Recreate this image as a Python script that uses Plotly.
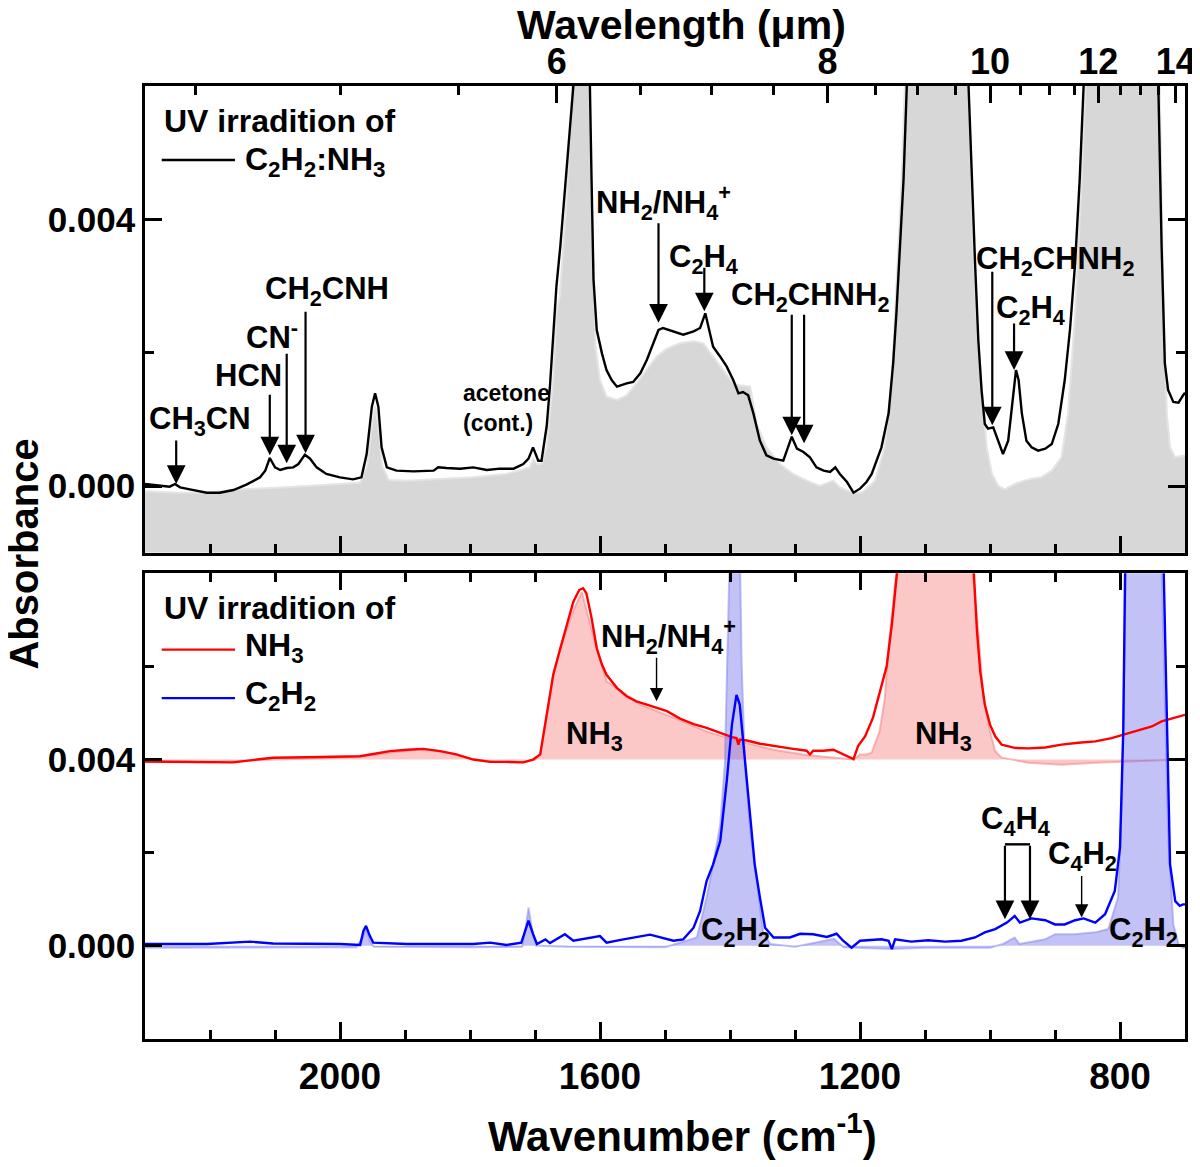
#!/usr/bin/env python3

"""
IR SPECTRA OF UV-IRRADIATED ICES

Two stacked panels on a shared (reversed) wavenumber axis:
  top    - C2H2:NH3 mixture
  bottom - pure NH3 (offset by +0.004) and pure C2H2
Filled areas are the spectra before irradiation, lines are after.

$ python3 plot.py
"""

from typing import List, Dict, Any

import plotly.graph_objects as go


# --- top panel: C2H2:NH3 mixture -------------------------------------------

MIX_AFTER_WN: List[float] = [
    2300, 2277, 2262, 2254, 2246, 2231, 2205, 2185, 2164, 2144,
    2123, 2115, 2108, 2100, 2092, 2082, 2072, 2064, 2054, 2046,
    2036, 2021, 2000, 1980, 1967, 1959, 1951, 1946, 1941, 1936,
    1928, 1913, 1887, 1856, 1849, 1836, 1815, 1795, 1774, 1754,
    1733, 1718, 1710, 1703, 1695, 1690, 1685, 1682, 1677, 1672,
    1667, 1661, 1651, 1641, 1628, 1617, 1613, 1610, 1605, 1597,
    1590, 1582, 1574, 1559, 1549, 1538, 1528, 1518, 1510, 1503,
    1487, 1472, 1456, 1446, 1438, 1431, 1426, 1415, 1405, 1395,
    1387, 1380, 1372, 1364, 1354, 1344, 1333, 1318, 1305, 1297,
    1287, 1277, 1267, 1256, 1246, 1238, 1231, 1220, 1210, 1200,
    1190, 1182, 1167, 1156, 1149, 1144, 1138, 1133, 1128, 1080,
    1033, 1028, 1023, 1018, 1013, 1008, 1003, 995, 987, 980,
    972, 964, 960, 956, 951, 944, 936, 926, 915, 905,
    895, 885, 877, 869, 862, 856, 800, 741, 736, 731,
    726, 718, 710, 703, 700,
]
MIX_AFTER_ABS: List[float] = [
    0.00003, 0.0, -0.00001, 0.00003, -0.00002, -0.00005, -0.0001, -0.0001, -0.00006, 0.00002,
    0.00013, 0.00023, 0.00042, 0.00028, 0.00024, 0.00027, 0.00028, 0.00033, 0.00047, 0.00041,
    0.00028, 0.00018, 0.00013, 0.0001, 0.00013, 0.00048, 0.00119, 0.00139, 0.00119, 0.00058,
    0.00028, 0.00023, 0.00022, 0.00023, 0.00028, 0.00027, 0.00026, 0.00028, 0.00024, 0.00026,
    0.00026, 0.00033, 0.00041, 0.00058, 0.00038, 0.00038, 0.00068, 0.0009, 0.0015, 0.0022,
    0.003, 0.0036, 0.00485, 0.006, 0.009, 0.0068, 0.0046, 0.0031, 0.00234, 0.00199,
    0.00174, 0.00159, 0.00149, 0.00154, 0.00156, 0.00169, 0.00189, 0.00214, 0.00234, 0.00237,
    0.00232, 0.00227, 0.00232, 0.00237, 0.00259, 0.00229, 0.00209, 0.00194, 0.00179, 0.00159,
    0.00139, 0.00141, 0.00136, 0.00109, 0.00068, 0.00046, 0.00041, 0.00038, 0.00074, 0.00056,
    0.00051, 0.00043, 0.00028, 0.00023, 0.00021, 0.00028, 0.00018, 0.00006, -0.0001, -0.00004,
    0.00006, 0.00018, 0.00058, 0.00109, 0.00184, 0.00259, 0.0036, 0.0046, 0.006, 0.02,
    0.006, 0.0046, 0.00335, 0.00219, 0.00144, 0.00093, 0.00086, 0.00088, 0.00068, 0.00048,
    0.00068, 0.00134, 0.00174, 0.00159, 0.00109, 0.00068, 0.00058, 0.00053, 0.00056, 0.00063,
    0.00093, 0.00159, 0.00234, 0.00335, 0.0046, 0.006, 0.02, 0.006, 0.0036, 0.00184,
    0.00144, 0.00126, 0.00125, 0.00136, 0.0014,
]

MIX_BEFORE_WN: List[float] = [
    2300, 2250, 2205, 2154, 2103, 2051, 2000, 1969, 1958, 1951,
    1946, 1941, 1935, 1925, 1897, 1846, 1795, 1744, 1718, 1708,
    1703, 1697, 1690, 1682, 1677, 1672, 1667, 1662, 1651, 1641,
    1628, 1617, 1612, 1607, 1600, 1590, 1574, 1559, 1544, 1528,
    1513, 1497, 1477, 1456, 1441, 1426, 1410, 1395, 1385, 1369,
    1359, 1344, 1323, 1303, 1282, 1262, 1241, 1231, 1210, 1197,
    1177, 1162, 1151, 1144, 1136, 1131, 1080, 1033, 1026, 1018,
    1010, 1005, 997, 987, 977, 962, 941, 921, 905, 890,
    880, 869, 859, 854, 795, 739, 733, 728, 723, 715,
    703, 700,
]
MIX_BEFORE_ABS: List[float] = [
    -0.00008, -0.0001, -0.0001, -0.00005, -0.00003, 0.0, 0.00003, 0.00005, 0.0003, 0.0009,
    0.0012, 0.0009, 0.0003, 0.00009, 0.00008, 0.0001, 0.00013, 0.00018, 0.00025, 0.00028,
    0.0004, 0.00033, 0.00033, 0.00058, 0.0011, 0.00159, 0.0026, 0.00284, 0.00435, 0.006,
    0.009, 0.006, 0.0041, 0.00209, 0.00159, 0.00134, 0.00129, 0.00136, 0.00154, 0.00174,
    0.00194, 0.00206, 0.00214, 0.00217, 0.00214, 0.00194, 0.00174, 0.00154, 0.00151, 0.00149,
    0.00093, 0.00058, 0.00033, 0.00018, 0.00008, 0.0, 0.00008, -0.00002, -0.0001, -0.0001,
    0.00008, 0.00058, 0.00159, 0.0031, 0.0046, 0.006, 0.02, 0.006, 0.0036, 0.00209,
    0.00109, 0.00058, 0.00018, 0.0, -0.00005, 0.00003, 0.0001, 0.00013, 0.00023, 0.00043,
    0.00109, 0.00259, 0.0046, 0.006, 0.02, 0.006, 0.00259, 0.00109, 0.00058, 0.00043,
    0.00046, 0.00046,
]

# --- bottom panel: pure NH3 (drawn offset) and pure C2H2 -------------------

NH3_AFTER_WN: List[float] = [
    2300, 2256, 2205, 2164, 2128, 2103, 2051, 2000, 1969, 1949,
    1923, 1897, 1872, 1846, 1821, 1795, 1769, 1744, 1718, 1703,
    1692, 1682, 1672, 1661, 1651, 1641, 1632, 1626, 1621, 1613,
    1605, 1597, 1590, 1574, 1559, 1544, 1528, 1513, 1497, 1477,
    1456, 1436, 1415, 1397, 1390, 1387, 1385, 1374, 1354, 1333,
    1308, 1282, 1277, 1272, 1256, 1241, 1226, 1210, 1203, 1192,
    1180, 1167, 1159, 1151, 1146, 1141, 1080, 1026, 1020, 1015,
    1008, 1000, 992, 982, 962, 941, 915, 890, 864, 838,
    813, 792, 772, 751, 736, 718, 700,
]
NH3_AFTER_ABS: List[float] = [
    -0.00004, -0.00005, -0.00005, -0.00006, 0.0, 0.00004, 0.00005, 0.00006, 0.00007, 0.00012,
    0.00018, 0.00021, 0.00023, 0.00018, 0.00011, 0.0, -0.00005, -0.00005, -0.00006, 0.0,
    0.00011, 0.00096, 0.00182, 0.00239, 0.00289, 0.00339, 0.00364, 0.00368, 0.00357, 0.00304,
    0.00239, 0.00204, 0.00182, 0.00154, 0.00136, 0.00125, 0.00118, 0.00112, 0.00104, 0.00088,
    0.00076, 0.00068, 0.00057, 0.00048, 0.00046, 0.00032, 0.00043, 0.00041, 0.00034, 0.00029,
    0.00024, 0.00019, 0.00011, 0.00019, 0.00019, 0.00021, 0.00011, 0.00001, 0.00029, 0.0005,
    0.0009, 0.0016, 0.002, 0.0029, 0.0037, 0.0043, 0.012, 0.0043, 0.00275, 0.00189,
    0.00118, 0.00075, 0.0005, 0.00032, 0.00025, 0.00024, 0.00026, 0.00032, 0.00036, 0.00039,
    0.00046, 0.00054, 0.00062, 0.00071, 0.00082, 0.00089, 0.00096,
]

NH3_BEFORE_WN: List[float] = [
    2300, 2200, 2100, 2000, 1950, 1900, 1870, 1840, 1800, 1760,
    1720, 1700, 1692, 1682, 1672, 1661, 1651, 1641, 1628, 1615,
    1590, 1538, 1487, 1436, 1385, 1333, 1282, 1231, 1210, 1200,
    1190, 1182, 1170, 1162, 1156, 1146, 1141, 1080, 1028, 1018,
    1010, 1000, 992, 982, 941, 890, 838, 787, 736, 700,
]
NH3_BEFORE_ABS: List[float] = [
    -0.00005, -0.00006, 0.0, 0.00004, 0.0001, 0.00019, 0.00022, 0.00017, 0.00002, -0.00005,
    -0.00006, 0.0, 0.0001, 0.00096, 0.0018, 0.0024, 0.0028, 0.0032, 0.0036, 0.0029,
    0.00168, 0.00118, 0.0009, 0.0006, 0.00039, 0.00021, 0.0001, 0.00004, 0.0, 0.00011,
    0.00011, 0.00015, 0.0006, 0.0013, 0.0024, 0.0038, 0.0043, 0.012, 0.0043, 0.00275,
    0.00132, 0.00061, 0.00018, 0.00004, -0.00007, -0.00011, -0.00007, -0.00004, -0.00002, 0.0,
]

C2H2_AFTER_WN: List[float] = [
    2300, 2205, 2138, 2103, 2000, 1969, 1964, 1960, 1954, 1949,
    1897, 1795, 1769, 1744, 1721, 1715, 1710, 1703, 1697, 1684,
    1677, 1654, 1641, 1600, 1590, 1564, 1523, 1487, 1472, 1456,
    1446, 1436, 1426, 1415, 1405, 1397, 1390, 1385, 1377, 1369,
    1362, 1354, 1346, 1333, 1308, 1292, 1272, 1251, 1236, 1226,
    1213, 1200, 1180, 1167, 1156, 1151, 1146, 1121, 1095, 1069,
    1044, 1023, 1008, 992, 974, 962, 954, 936, 915, 900,
    885, 869, 856, 838, 823, 808, 800, 795, 792, 765,
    733, 728, 723, 715, 708, 703, 700,
]
C2H2_AFTER_ABS: List[float] = [
    0.00004, 0.00004, 0.00009, 0.00005, 0.00004, 0.00002, 0.00032, 0.00043, 0.00021, 0.00007,
    0.00004, 0.00004, 0.00007, 0.00002, 0.00007, 0.00032, 0.00054, 0.00025, 0.00004, 0.00014,
    0.00006, 0.00025, 0.00011, 0.00021, 0.00007, 0.00014, 0.00024, 0.00011, 0.00014, 0.00039,
    0.00075, 0.00139, 0.00175, 0.00225, 0.00354, 0.00475, 0.00539, 0.00518, 0.00404, 0.00282,
    0.00175, 0.00104, 0.00039, 0.00018, 0.00018, 0.00026, 0.00025, 0.00019, 0.00026, 0.00011,
    -0.00004, 0.00011, 0.00012, 0.00014, 0.00011, -0.00007, 0.00014, 0.00009, 0.00012, 0.00009,
    0.00011, 0.00018, 0.00029, 0.00036, 0.0005, 0.00064, 0.0005, 0.00059, 0.00055, 0.00046,
    0.00046, 0.00055, 0.00059, 0.0005, 0.00068, 0.00118, 0.00211, 0.00461, 0.0082, 0.03,
    0.0082, 0.00461, 0.00175, 0.00096, 0.00086, 0.00089, 0.00089,
]

C2H2_BEFORE_WN: List[float] = [
    2300, 2100, 1975, 1964, 1960, 1954, 1948, 1800, 1720, 1714,
    1710, 1705, 1698, 1650, 1500, 1451, 1436, 1426, 1415, 1408,
    1403, 1391, 1382, 1377, 1369, 1359, 1349, 1338, 1300, 1240,
    1225, 1151, 1100, 1000, 980, 962, 955, 915, 900, 870,
    838, 818, 803, 797, 792, 765, 736, 731, 726, 718,
    710, 703, 700,
]
C2H2_BEFORE_ABS: List[float] = [
    -0.00004, -0.00003, -0.00003, 0.0002, 0.0004, 0.0001, -0.00002, -0.00003, -0.00002, 0.0004,
    0.00082, 0.0004, 0.0, -0.00002, -0.00003, 0.00018, 0.00104, 0.00175, 0.0026, 0.0039,
    0.006, 0.014, 0.006, 0.0039, 0.0025, 0.0014, 0.0003, 0.00004, -0.00002, 0.00015,
    -0.00003, -0.00007, -0.00004, -0.00004, 0.00004, 0.00018, 0.00004, 0.00014, 0.00025, 0.00025,
    0.00029, 0.00036, 0.00104, 0.00318, 0.0082, 0.03, 0.0082, 0.0053, 0.0024, 0.00046,
    0.00004, -0.00004, -0.00004,
]

NH3_OFFSET: float = 0.004

# --- axes ---------------------------------------------------------------------

X_RANGE: List[float] = [2300, 700]
TOP_Y_RANGE: List[float] = [-0.001, 0.006]
BOTTOM_Y_RANGE: List[float] = [-0.002, 0.008]
Y_TICKS: List[float] = [0.0, 0.004]
TOP_Y_MINOR: List[float] = [0.002]
BOTTOM_Y_MINOR: List[float] = [0.002, 0.006]
WAVELENGTH_TICKS: List[float] = [6, 8, 10, 12, 14]
WAVELENGTH_MINOR: List[float] = [4.5, 5, 5.5, 6.5, 7, 7.5, 8.5, 9, 9.5,
                                 10.5, 11, 11.5, 12.5, 13, 13.5]

# --- labels: (text, wavenumber, absorbance) ----------------------------------

TOP_LABELS = [
    ("CH<sub>3</sub>CN", 2215, 0.00098),
    ("HCN", 2141, 0.00166),
    ("CN<sup>-</sup>", 2105, 0.00227),
    ("CH<sub>2</sub>CNH", 2020, 0.00292),
    ("NH<sub>2</sub>/NH<sub>4</sub><sup>+</sup>", 1503, 0.00425),
    ("C<sub>2</sub>H<sub>4</sub>", 1441, 0.0034),
    ("CH<sub>2</sub>CHNH<sub>2</sub>", 1277, 0.00284),
    ("CH<sub>2</sub>CHNH<sub>2</sub>", 900, 0.00337),
    ("C<sub>2</sub>H<sub>4</sub>", 938, 0.00264),
]
# (wavenumber, absorbance at tip, arrow length px, thin)
TOP_ARROWS = [
    (2252, 0.00003, 45, False),
    (2108, 0.00046, 62, False),
    (2082, 0.00034, 111, False),
    (2053, 0.00049, 143, False),
    (1510, 0.00245, 101, False),
    (1439.5, 0.00262, 45, False),
    (1305, 0.00076, 122, False),
    (1286, 0.00064, 130, False),
    (996.5, 0.00091, 155, False),
    (963, 0.00174, 48, False),
]

BOTTOM_LABELS = [
    ("NH<sub>2</sub>/NH<sub>4</sub><sup>+</sup>", 1495, 0.00665),
    ("NH<sub>3</sub>", 1608, 0.0045),
    ("C<sub>2</sub>H<sub>2</sub>", 1392, 0.00029),
    ("NH<sub>3</sub>", 1071, 0.0045),
    ("C<sub>4</sub>H<sub>4</sub>", 961.5, 0.00268),
    ("C<sub>4</sub>H<sub>2</sub>", 857, 0.00193),
    ("C<sub>2</sub>H<sub>2</sub>", 764.6, 0.00029),
]
BOTTOM_ARROWS = [
    (1513, 0.00525, 45, True),
    (977, 0.00057, 75, False),
    (938.5, 0.00057, 75, False),
    (859, 0.00061, 43, True),
]
C4H4_BRACKET = (977, 938.5, 0.00218)

FONT = "Liberation Sans"
GREY_FILL = "rgb(215,215,215)"
GREY_EDGE = "rgb(228,228,228)"
PINK_FILL = "rgba(245,80,80,0.32)"
PINK_EDGE = "rgba(240,110,110,0.45)"
LILAC_FILL = "rgba(110,110,235,0.42)"
LILAC_EDGE = "rgba(130,130,240,0.5)"

# the page body adds an 8 px margin, so the figure is drawn 8 px smaller
PAGE_INSET = 8


def font(size: float, color: str = "black") -> Dict[str, Any]:
    return dict(family=FONT, size=size, color=color, weight="bold")


def label(text, x, y, xref, yref, size=31, xanchor="center", **kw) -> Dict[str, Any]:
    return dict(text=text, x=x, y=y, xref=xref, yref=yref, showarrow=False,
                xanchor=xanchor, yanchor="middle", font=font(size), **kw)


def arrow(x, y, length, thin, xref, yref) -> Dict[str, Any]:
    return dict(text="", x=x, y=y, xref=xref, yref=yref, showarrow=True,
                ax=0, ay=-length, arrowhead=2, arrowcolor="black",
                arrowwidth=1.4 if thin else 2.2,
                arrowsize=1.9 if thin else 1.7, standoff=0)


def main() -> None:
    """Build the two-panel spectrum figure."""

    for wn, ab in [(MIX_AFTER_WN, MIX_AFTER_ABS), (MIX_BEFORE_WN, MIX_BEFORE_ABS),
                   (NH3_AFTER_WN, NH3_AFTER_ABS), (NH3_BEFORE_WN, NH3_BEFORE_ABS),
                   (C2H2_AFTER_WN, C2H2_AFTER_ABS), (C2H2_BEFORE_WN, C2H2_BEFORE_ABS)]:
        assert len(wn) == len(ab), (len(wn), len(ab))

    fig = go.Figure()

    # top panel
    fig.add_trace(go.Scatter(x=X_RANGE, y=[TOP_Y_RANGE[0]] * 2, mode="lines",
                             line=dict(width=0), hoverinfo="skip",
                             xaxis="x", yaxis="y"))
    fig.add_trace(go.Scatter(x=MIX_BEFORE_WN, y=MIX_BEFORE_ABS, mode="lines",
                             fill="tonexty", fillcolor=GREY_FILL,
                             line=dict(color=GREY_EDGE, width=2),
                             xaxis="x", yaxis="y"))
    fig.add_trace(go.Scatter(x=MIX_AFTER_WN, y=MIX_AFTER_ABS, mode="lines",
                             line=dict(color="black", width=2.4),
                             xaxis="x3", yaxis="y"))

    # bottom panel
    nh3_before = [v + NH3_OFFSET for v in NH3_BEFORE_ABS]
    nh3_after = [v + NH3_OFFSET for v in NH3_AFTER_ABS]
    fig.add_trace(go.Scatter(x=X_RANGE, y=[NH3_OFFSET] * 2, mode="lines",
                             line=dict(width=0), hoverinfo="skip",
                             xaxis="x2", yaxis="y2"))
    fig.add_trace(go.Scatter(x=NH3_BEFORE_WN, y=nh3_before, mode="lines",
                             fill="tonexty", fillcolor=PINK_FILL,
                             line=dict(color=PINK_EDGE, width=2),
                             xaxis="x2", yaxis="y2"))
    fig.add_trace(go.Scatter(x=C2H2_BEFORE_WN, y=C2H2_BEFORE_ABS, mode="lines",
                             fill="tozeroy", fillcolor=LILAC_FILL,
                             line=dict(color=LILAC_EDGE, width=2),
                             xaxis="x2", yaxis="y2"))
    fig.add_trace(go.Scatter(x=NH3_AFTER_WN, y=nh3_after, mode="lines",
                             line=dict(color="rgb(255,0,0)", width=2.4),
                             xaxis="x2", yaxis="y2"))
    fig.add_trace(go.Scatter(x=C2H2_AFTER_WN, y=C2H2_AFTER_ABS, mode="lines",
                             line=dict(color="rgb(0,0,255)", width=2.4),
                             xaxis="x2", yaxis="y2"))

    frame = dict(showline=True, linewidth=2.5, linecolor="black", showgrid=False,
                 zeroline=False, ticks="inside", ticklen=17, tickwidth=2.5,
                 tickcolor="black", automargin=False)
    x_minor = dict(ticks="inside", ticklen=9, tickwidth=2.5, tickcolor="black",
                   dtick=100, tick0=0)

    top_dom = [0.5103, 1.0]
    bot_dom = [0.0, 0.4887]

    fig.update_layout(
        width=1200 - PAGE_INSET, height=1167 - PAGE_INSET,
        margin=dict(l=145 - PAGE_INSET, r=15, t=86 - PAGE_INSET, b=128,
                    autoexpand=False),
        paper_bgcolor="white", plot_bgcolor="white",
        showlegend=False,
        font=font(35),
        xaxis=dict(frame, domain=[0, 1], anchor="y", range=X_RANGE,
                   dtick=400, tick0=0, showticklabels=False, minor=x_minor),
        xaxis3=dict(frame, overlaying="x", side="top", anchor="y", range=X_RANGE,
                    tickmode="array",
                    tickvals=[1e4 / w for w in WAVELENGTH_TICKS],
                    ticktext=[str(w) for w in WAVELENGTH_TICKS],
                    tickfont=font(36), ticklabelstandoff=-5,
                    minor=dict(ticks="inside", ticklen=9, tickwidth=2.5,
                               tickcolor="black", tickmode="array",
                               tickvals=[1e4 / w for w in WAVELENGTH_MINOR])),
        xaxis2=dict(frame, domain=[0, 1], anchor="y2", range=X_RANGE,
                    dtick=400, tick0=0, mirror="ticks", minor=x_minor,
                    tickformat="d", tickfont=font(37), ticklabelstandoff=3),
        yaxis=dict(frame, domain=top_dom, anchor="x", range=TOP_Y_RANGE,
                   tickmode="array", tickvals=Y_TICKS, tickformat=".3f",
                   mirror="ticks", tickfont=font(35), ticklabelstandoff=0,
                   minor=dict(ticks="inside", ticklen=9, tickwidth=2.5,
                              tickcolor="black", tickmode="array",
                              tickvals=TOP_Y_MINOR)),
        yaxis2=dict(frame, domain=bot_dom, anchor="x2", range=BOTTOM_Y_RANGE,
                    tickmode="array", tickvals=Y_TICKS, tickformat=".3f",
                    mirror="ticks", tickfont=font(35), ticklabelstandoff=0,
                    minor=dict(ticks="inside", ticklen=9, tickwidth=2.5,
                               tickcolor="black", tickmode="array",
                               tickvals=BOTTOM_Y_MINOR)),
    )

    notes: List[Dict[str, Any]] = []

    # axis titles
    notes.append(label("Absorbance", -0.1163, 0.5084, "paper", "paper", 40,
                       textangle=-90))
    notes.append(label("Wavenumber (cm<sup>-1</sup>)", 0.517, -0.099,
                       "paper", "paper", 42))
    notes.append(label("Wavelength (\u03bcm)", 0.516, 1.0645, "paper", "paper", 41))

    # hand-drawn legends
    notes.append(label("UV irradition of", 2274.3, 0.00548, "x", "y", 32, "left"))
    notes.append(label("C<sub>2</sub>H<sub>2</sub>:NH<sub>3</sub>", 2148.8, 0.00487,
                       "x", "y", 32, "left"))
    notes.append(label("UV irradition of", 2274.3, 0.00725, "x2", "y2", 32, "left"))
    notes.append(label("NH<sub>3</sub>", 2148.8, 0.0064, "x2", "y2", 32, "left"))
    notes.append(label("C<sub>2</sub>H<sub>2</sub>", 2148.8, 0.00537, "x2", "y2", 32,
                       "left"))
    notes.append(label("acetone<br>(cont.)", 1814.3, 0.00117, "x", "y", 23, "left",
                       align="left"))

    for text, x, y in TOP_LABELS:
        notes.append(label(text, x, y, "x", "y"))
    for x, y, length, thin in TOP_ARROWS:
        notes.append(arrow(x, y, length, thin, "x", "y"))
    for text, x, y in BOTTOM_LABELS:
        notes.append(label(text, x, y, "x2", "y2"))
    for x, y, length, thin in BOTTOM_ARROWS:
        notes.append(arrow(x, y, length, thin, "x2", "y2"))

    fig.update_layout(annotations=notes)

    shapes = [
        dict(type="line", xref="x", yref="y", x0=2274.3, x1=2161.5,
             y0=0.00489, y1=0.00489, line=dict(color="black", width=2.4)),
        dict(type="line", xref="x2", yref="y2", x0=2274.3, x1=2161.5,
             y0=0.00636, y1=0.00636, line=dict(color="rgb(255,0,0)", width=2.4)),
        dict(type="line", xref="x2", yref="y2", x0=2274.3, x1=2161.5,
             y0=0.00532, y1=0.00532, line=dict(color="rgb(0,0,255)", width=2.4)),
        dict(type="line", xref="x2", yref="y2", x0=C4H4_BRACKET[0],
             x1=C4H4_BRACKET[1], y0=C4H4_BRACKET[2], y1=C4H4_BRACKET[2],
             line=dict(color="black", width=2.4)),
    ]
    fig.update_layout(shapes=shapes)

    fig.write_html("out.html")


if __name__ == "__main__":
    main()

### END ###
